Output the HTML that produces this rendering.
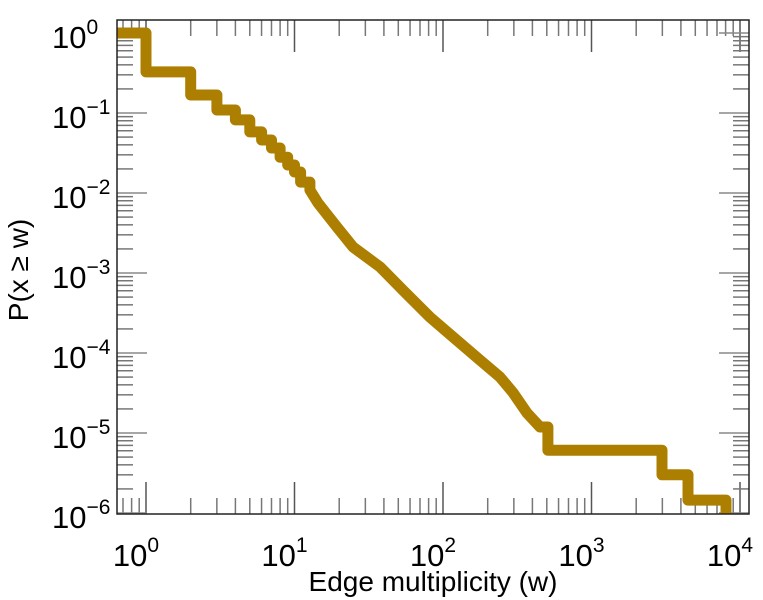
<!DOCTYPE html>
<html><head><meta charset="utf-8"><style>
html,body{margin:0;padding:0;background:#fff;}
svg{display:block;font-family:"Liberation Sans",sans-serif;}
</style></head><body>
<svg id="chart" width="763" height="600" viewBox="0 0 763 600" xmlns="http://www.w3.org/2000/svg">
<g id="ticks"></g>
<path id="series" fill="none" stroke="#ad7f00" stroke-width="11" stroke-linejoin="round" stroke-linecap="butt"/>
<rect x="117" y="20" width="632" height="494" fill="none" stroke="#222" stroke-width="1.5"/>
<g id="labels" font-size="31" fill="#000"></g>
<text x="433" y="591" font-size="28" text-anchor="middle">Edge multiplicity (w)</text>
<text transform="translate(28,270) rotate(-90)" font-size="28" text-anchor="middle">P(x ≥ w)</text>
</svg>
<script>
const weights = [1, 2, 3, 4, 5, 6, 7, 8, 9, 10, 11, 12.7, 14.4, 19.3, 24.8, 37.7, 53.8, 81.7, 117, 177, 242, 296, 368, 450, 509, 2985, 4467, 8050];
const probs = [0.326, 0.168, 0.109, 0.082, 0.058, 0.046, 0.0365, 0.028, 0.0224, 0.0183, 0.0137, 0.0109, 0.0075, 0.00376, 0.00211, 0.00119, 6.1e-4, 2.8e-4, 1.58e-4, 8.2e-5, 5.0e-5, 3.2e-5, 1.78e-5, 1.19e-5, 6.1e-6, 3.0e-6, 1.45e-6, 5e-7];
const stepped = [1,1,1,1,1,1,1,1,1,1,1,1, 0,0,0,0,0,0,0,0,0,0,0,0, 1,1,1,1];
const xTickExps = [0, 1, 2, 3, 4];
const yTickExps = [0, -1, -2, -3, -4, -5, -6];

const L=117,R=749,T=20,B=514;
function xs(w){return 146+148.5*Math.log10(w);}
function ys(p){return 33-80*Math.log10(p);}
const NS="http://www.w3.org/2000/svg";

let d="M"+L+","+ys(1);
for(let i=0;i<weights.length;i++){
  const x=xs(weights[i]);
  let y=ys(probs[i]); if(y>B) y=B;
  if(stepped[i]) d+=" H"+x.toFixed(1)+" V"+y.toFixed(1);
  else d+=" L"+x.toFixed(1)+","+y.toFixed(1);
}
document.getElementById('series').setAttribute('d',d);

const tg=document.getElementById('ticks');
function line(x1,y1,x2,y2,c,name){
  const l=document.createElementNS(NS,'line');
  l.setAttribute('x1',x1);l.setAttribute('y1',y1);l.setAttribute('x2',x2);l.setAttribute('y2',y2);
  l.setAttribute('stroke',c);l.setAttribute('stroke-width','1.5');
  
  
  tg.appendChild(l);
}
for(let e=-1;e<=4;e++){
  for(let m=1;m<10;m++){
    const x=xs(m*Math.pow(10,e));
    if(x<L||x>R) continue;
    const len=m===1?32:16, c=m===1?'#555':'#777';
    line(x,B,x,B-len,c,'x-tick');
    line(x,T,x,T+len,c,'x-tick');
  }
}
for(let e=-7;e<=0;e++){
  for(let m=1;m<10;m++){
    const y=ys(m*Math.pow(10,e));
    if(y<T||y>B) continue;
    const len=m===1?30:16, c=m===1?'#888':'#777';
    line(L,y,L+len,y,c,'y-tick');
    line(R,y,R-len,y,c,'y-tick');
  }
}
const lg=document.getElementById('labels');
function lab(x,y,exp,anchor,name){
  const t=document.createElementNS(NS,'text');
  t.setAttribute('x',x);t.setAttribute('y',y);t.setAttribute('text-anchor',anchor);
  
  
  t.textContent='10';
  const s=document.createElementNS(NS,'tspan');
  s.setAttribute('dy','-14');s.setAttribute('font-size','21');
  s.textContent=exp===0?'0':(exp<0?'\u2212'+(-exp):String(exp));
  t.appendChild(s);
  lg.appendChild(t);
}
xTickExps.forEach(e=>{lab(xs(Math.pow(10,e))-10,566,e,'middle','x-tick-label');});
yTickExps.forEach(e=>{lab(52,ys(Math.pow(10,e))+15,e,'start','y-tick-label');});
</script>
</body></html>
